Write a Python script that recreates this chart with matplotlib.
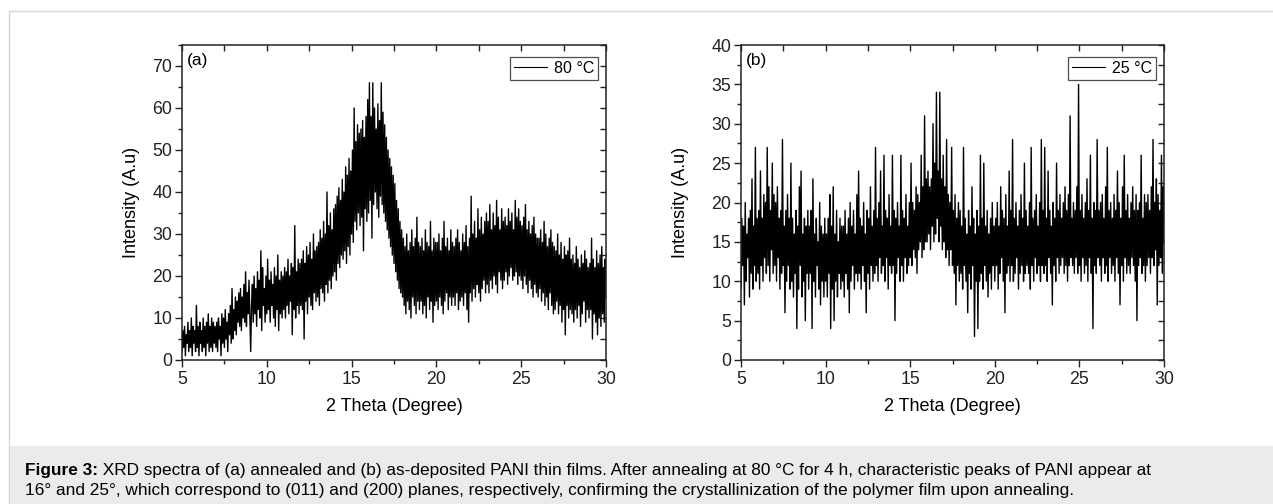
import matplotlib

matplotlib.use("Agg")
import matplotlib.pyplot as plt
import numpy as np
from matplotlib.patches import Rectangle
from matplotlib.ticker import MultipleLocator

plt.rcParams["font.family"] = ["Liberation Sans", "DejaVu Sans"]

# 2-theta grid of the scans: 5.00 .. 30.00 in 0.05 deg steps
THETA_START = 5.0
THETA_STEP = 0.05

# (a) annealed at 80 C -- one row per degree (20 readings each), last value at 30.0
INTENSITY_80C = [
    2, 7, 3, 8, 1, 6, 4, 9, 2, 7, 3, 10, 1, 8, 4, 7, 2, 13, 3, 8,
    1, 9, 4, 7, 2, 10, 3, 8, 1, 9, 4, 11, 2, 8, 3, 10, 2, 9, 4, 8,
    3, 9, 2, 10, 5, 8, 1, 11, 4, 10, 3, 12, 5, 9, 2, 11, 6, 13, 4, 17,
    5, 12, 7, 15, 6, 14, 9, 16, 8, 17, 7, 15, 10, 18, 9, 21, 8, 16, 11, 19,
    10, 2, 13, 18, 9, 20, 11, 17, 8, 21, 12, 19, 10, 26, 7, 22, 13, 17, 9, 20,
    11, 24, 12, 19, 9, 21, 13, 18, 10, 22, 8, 20, 12, 25, 7, 19, 11, 21, 10, 20,
    12, 22, 10, 21, 13, 24, 11, 20, 14, 23, 6, 22, 12, 32, 10, 21, 13, 24, 11, 23,
    13, 24, 12, 26, 5, 23, 14, 27, 11, 25, 15, 28, 13, 24, 12, 30, 16, 26, 14, 27,
    15, 28, 13, 31, 17, 29, 16, 33, 14, 30, 18, 40, 16, 32, 19, 35, 17, 31, 20, 36,
    21, 37, 19, 39, 23, 41, 22, 38, 25, 43, 24, 40, 26, 46, 23, 44, 27, 48, 25, 45,
    30, 50, 28, 60, 33, 52, 31, 56, 35, 54, 32, 55, 34, 57, 26, 53, 36, 58, 33, 62,
    35, 66, 38, 58, 29, 66, 37, 60, 40, 55, 36, 61, 34, 57, 39, 66, 37, 59, 35, 56,
    33, 53, 31, 50, 29, 48, 27, 46, 25, 44, 23, 42, 21, 38, 19, 36, 17, 33, 16, 31,
    15, 29, 13, 27, 11, 30, 14, 26, 12, 28, 10, 31, 15, 27, 13, 29, 11, 34, 14, 28,
    12, 27, 14, 29, 11, 26, 13, 31, 10, 28, 15, 27, 12, 33, 14, 26, 9, 29, 13, 28,
    14, 28, 12, 30, 15, 26, 13, 29, 11, 33, 14, 27, 16, 29, 12, 26, 15, 31, 13, 28,
    15, 27, 13, 29, 16, 31, 12, 28, 14, 26, 15, 30, 13, 28, 16, 32, 12, 27, 9, 29,
    16, 39, 14, 30, 17, 33, 15, 29, 18, 36, 16, 31, 14, 34, 17, 30, 19, 33, 16, 35,
    18, 33, 16, 37, 19, 31, 17, 35, 20, 32, 18, 38, 16, 34, 21, 31, 19, 36, 17, 33,
    19, 34, 21, 32, 18, 36, 20, 33, 22, 35, 19, 31, 20, 38, 21, 34, 18, 36, 20, 33,
    19, 32, 17, 34, 20, 37, 18, 31, 16, 33, 19, 30, 17, 32, 15, 34, 18, 30, 16, 29,
    15, 29, 17, 31, 14, 28, 16, 33, 13, 30, 15, 27, 12, 29, 16, 31, 13, 28, 11, 27,
    12, 26, 14, 30, 11, 25, 13, 28, 9, 24, 12, 27, 6, 25, 13, 26, 10, 29, 12, 24,
    11, 25, 9, 23, 12, 27, 10, 24, 13, 22, 8, 25, 11, 23, 14, 26, 9, 24, 12, 22,
    10, 23, 12, 29, 5, 24, 11, 22, 9, 26, 6, 23, 10, 25, 8, 27, 11, 22, 9, 24,
    15,
]

# (b) as-deposited, 25 C
INTENSITY_25C = [
    9, 18, 12, 17, 7, 20, 10, 16, 13, 18, 8, 19, 11, 23, 9, 17, 12, 27, 10, 18,
    11, 19, 9, 24, 12, 18, 10, 21, 13, 20, 11, 27, 12, 22, 10, 19, 14, 25, 11, 21,
    12, 20, 10, 22, 13, 18, 9, 19, 11, 28, 12, 17, 6, 19, 10, 21, 12, 18, 9, 25,
    10, 18, 8, 16, 11, 19, 4, 17, 9, 22, 12, 24, 8, 16, 10, 18, 5, 17, 11, 19,
    9, 17, 11, 19, 4, 23, 10, 16, 8, 18, 12, 15, 9, 20, 7, 17, 10, 16, 8, 18,
    10, 16, 8, 18, 11, 21, 4, 17, 9, 22, 5, 16, 10, 19, 8, 15, 11, 18, 9, 17,
    10, 17, 8, 19, 11, 16, 9, 18, 6, 20, 10, 17, 12, 19, 9, 16, 11, 21, 10, 24,
    11, 18, 9, 17, 12, 20, 10, 16, 6, 19, 11, 18, 9, 22, 12, 17, 10, 19, 11, 27,
    12, 18, 10, 20, 13, 24, 11, 17, 12, 26, 10, 19, 13, 18, 9, 21, 12, 17, 11, 26,
    12, 19, 5, 18, 11, 20, 13, 17, 10, 26, 12, 19, 10, 18, 13, 21, 11, 17, 12, 20,
    13, 25, 12, 20, 14, 19, 13, 22, 11, 21, 14, 20, 15, 26, 13, 22, 14, 31, 15, 23,
    15, 24, 16, 22, 14, 23, 17, 30, 15, 25, 16, 34, 18, 24, 15, 34, 17, 23, 14, 26,
    15, 22, 13, 28, 14, 21, 12, 20, 14, 27, 12, 19, 11, 21, 7, 18, 12, 20, 10, 19,
    11, 17, 9, 27, 12, 18, 10, 16, 6, 19, 11, 17, 9, 22, 12, 18, 3, 16, 10, 19,
    4, 17, 10, 26, 11, 18, 9, 25, 12, 17, 10, 19, 8, 16, 11, 18, 9, 20, 12, 17,
    10, 18, 12, 20, 9, 17, 11, 22, 13, 19, 10, 18, 6, 21, 11, 17, 12, 24, 10, 19,
    12, 28, 10, 18, 11, 20, 13, 17, 9, 19, 11, 21, 12, 18, 10, 25, 11, 19, 12, 17,
    11, 20, 9, 27, 12, 18, 10, 19, 13, 21, 11, 17, 12, 20, 10, 28, 12, 19, 11, 27,
    12, 18, 10, 24, 13, 19, 11, 17, 7, 20, 12, 18, 10, 25, 13, 19, 11, 21, 12, 18,
    13, 20, 11, 22, 12, 19, 10, 21, 12, 31, 13, 18, 12, 20, 11, 19, 13, 22, 11, 35,
    12, 19, 10, 21, 13, 18, 11, 20, 12, 23, 10, 19, 13, 26, 11, 18, 4, 20, 12, 19,
    11, 28, 13, 19, 12, 20, 10, 21, 13, 18, 11, 22, 12, 27, 10, 19, 13, 20, 11, 18,
    12, 21, 10, 19, 13, 24, 11, 20, 7, 18, 12, 22, 10, 26, 13, 19, 11, 21, 12, 18,
    11, 20, 13, 22, 12, 19, 10, 21, 5, 19, 12, 20, 13, 26, 11, 18, 12, 21, 10, 20,
    12, 21, 13, 19, 11, 22, 13, 28, 12, 20, 14, 23, 7, 21, 12, 19, 13, 26, 11, 22,
    15,
]

PANELS = [
    ("(a)", "80 °C", INTENSITY_80C, 75, 10),
    ("(b)", "25 °C", INTENSITY_25C, 40, 5),
]

CAPTION_BOLD = "Figure 3:"
CAPTION_LINE1 = (" XRD spectra of (a) annealed and (b) as-deposited PANI thin films. "
                 "After annealing at 80 °C for 4 h, characteristic peaks of PANI appear at")
CAPTION_LINE2 = ("16° and 25°, which correspond to (011) and (200) planes, respectively, "
                 "confirming the crystallinization of the polymer film upon annealing.")

W, H = 1273, 504
fig = plt.figure(figsize=(W / 100, H / 100), dpi=100)

# page frame + caption band (behind the axes)
fig.patches.append(Rectangle((9 / W, 0), 1.0, 1 - 11 / H, transform=fig.transFigure,
                             facecolor="none", edgecolor="#d6d6d6", linewidth=1.0, zorder=-2))
fig.patches.append(Rectangle((9.5 / W, 0), 1.0, (H - 446) / H, transform=fig.transFigure,
                             facecolor="#ebebeb", edgecolor="none", zorder=-1))

axes_boxes = [(182, 424), (741, 423)]
label_x = [-0.1, -0.122]

for (left, width), (tag, legend_label, values, ymax, ymajor), lx in zip(
        axes_boxes, PANELS, label_x):
    ax = fig.add_axes([left / W, (H - 360) / H, width / W, 315 / H])
    y = np.asarray(values, dtype=float)
    x = THETA_START + THETA_STEP * np.arange(len(y))
    ax.plot(x, y, color="black", linewidth=1.0, label=legend_label)

    ax.set_xlim(5, 30)
    ax.set_ylim(0, ymax)
    ax.xaxis.set_major_locator(MultipleLocator(5))
    ax.xaxis.set_minor_locator(MultipleLocator(2.5))
    ax.yaxis.set_major_locator(MultipleLocator(ymajor))
    ax.yaxis.set_minor_locator(MultipleLocator(ymajor / 2))
    ax.tick_params(which="major", direction="out", length=5, width=1.0,
                   labelsize=12.8, pad=2, colors="#222222")
    ax.tick_params(which="minor", direction="out", length=3, width=1.0, colors="#222222")
    ax.tick_params(axis="x", pad=3)

    # mirrored ticks on top/right, pointing inward
    top = ax.secondary_xaxis("top")
    top.xaxis.set_major_locator(MultipleLocator(2.5))
    top.tick_params(direction="in", length=4, width=1.0, labeltop=False, colors="#222222")
    right = ax.secondary_yaxis("right")
    right.yaxis.set_major_locator(MultipleLocator(ymajor / 2))
    right.tick_params(direction="in", length=4, width=1.0, labelright=False, colors="#222222")
    for sec in (top, right):
        for spine in sec.spines.values():
            spine.set_visible(False)

    for spine in ax.spines.values():
        spine.set_linewidth(1.1)
        spine.set_color("#222222")

    ax.set_xlabel("2 Theta (Degree)", fontsize=13)
    ax.set_ylabel("Intensity (A.u)", fontsize=13)
    ax.xaxis.set_label_coords(0.5, -0.12)
    ax.yaxis.set_label_coords(lx, 0.5)

    ax.text(0.012, 0.952, tag, transform=ax.transAxes, fontsize=12.5,
            ha="left", va="center")

    leg = ax.legend(loc="upper right", bbox_to_anchor=(1 - 8 / width, 1 - 12 / 315),
                    borderaxespad=0, fancybox=False, frameon=True, fontsize=11.5,
                    handlelength=2.1, handletextpad=0.4, borderpad=0.25)
    leg.get_frame().set_edgecolor("#222222")
    leg.get_frame().set_linewidth(0.9)
    for line in leg.get_lines():
        line.set_linewidth(0.8)

# caption
renderer = fig.canvas.get_renderer()
bold = fig.text(25 / W, 1 - 470 / H, CAPTION_BOLD, fontsize=12.4, fontweight="bold",
                va="center", ha="left")
bbox = bold.get_window_extent(renderer)
fig.text(bbox.x1 / W, 1 - 470 / H, CAPTION_LINE1, fontsize=12.4, va="center", ha="left")
fig.text(25 / W, 1 - 491 / H, CAPTION_LINE2, fontsize=12.4, va="center", ha="left")

fig.savefig("out.png", dpi=100)
